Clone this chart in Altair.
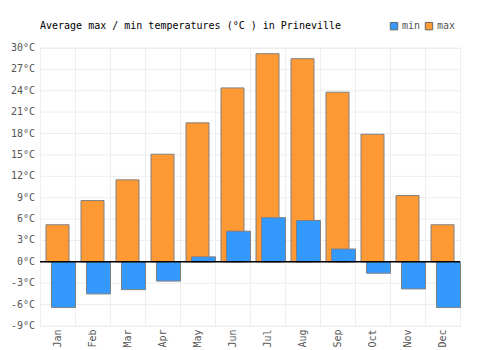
import altair as alt
import pandas as pd

months = ["Jan", "Feb", "Mar", "Apr", "May", "Jun", "Jul", "Aug", "Sep", "Oct", "Nov", "Dec"]
max_temps = [5.2, 8.6, 11.5, 15.1, 19.5, 24.4, 29.2, 28.5, 23.8, 17.9, 9.3, 5.2]
min_temps = [-6.4, -4.5, -3.9, -2.7, 0.7, 4.3, 6.2, 5.8, 1.8, -1.6, -3.8, -6.4]
y_ticks = list(range(-9, 31, 3))
title_text = ["Average max / min temperatures (°C ) in Prineville"]

FONT = "DejaVu Sans Mono"
FS = 10

rows = []
for m, mx, mn in zip(months, max_temps, min_temps):
    rows.append({"month": m, "series": "max", "value": mx})
    rows.append({"month": m, "series": "min", "value": mn})
df = pd.DataFrame(rows)
ticks_df = pd.DataFrame({"v": y_ticks, "label": [f"{v}°C" for v in y_ticks]})

color = alt.Color(
    "series:N",
    scale=alt.Scale(domain=["min", "max"], range=["#3399ff", "#ff9933"]),
    legend=alt.Legend(
        title=None, orient="none", legendX=349, legendY=-27, direction="horizontal",
        symbolType="square", symbolSize=55, symbolStrokeColor="#666666", symbolStrokeWidth=1,
        labelFont=FONT, labelFontSize=FS, labelColor="#555555", columnPadding=2,
        labelOffset=3, padding=0,
    ),
)

x = alt.X(
    "month:N", sort=months, title=None,
    scale=alt.Scale(paddingInner=0, paddingOuter=0),
    axis=alt.Axis(labelAngle=-90, labelFont=FONT, labelFontSize=FS, labelColor="#555555",
                  domain=False, ticks=False, grid=True, gridColor="#eeeeee",
                  tickBand="extent", labelPadding=3, labelAlign="right", labelBaseline="middle"),
)
yscale = alt.Scale(domain=[-9, 30], nice=False, zero=False)
y = alt.Y(
    "value:Q", title=None, scale=yscale,
    axis=alt.Axis(labels=False, domainColor="#000000", domainWidth=1.5, ticks=False,
                  grid=False),
)

grid = alt.Chart(ticks_df).mark_rule(color="#eeeeee", strokeWidth=1).encode(
    y=alt.Y("v:Q", scale=yscale, axis=None)
)
ylabels = alt.Chart(ticks_df).mark_text(
    font=FONT, fontSize=FS, color="#555555", align="right", baseline="middle", dx=-5
).encode(y=alt.Y("v:Q", scale=yscale, axis=None), x=alt.value(0), text="label:N")

base = alt.Chart(df)
max_bars = base.transform_filter(alt.datum.series == "max").mark_bar(
    width=23, stroke="#808080", strokeWidth=1
).encode(x=x, y=y, color=color)
min_bars = base.transform_filter(alt.datum.series == "min").mark_bar(
    width=24, xOffset=6, stroke="#808080", strokeWidth=1
).encode(x=x, y=alt.Y("value:Q", scale=yscale), color=color)
zero = alt.Chart(pd.DataFrame({"z": [0]})).mark_rule(color="#000000", strokeWidth=1.5).encode(
    y=alt.Y("z:Q", scale=yscale)
)
title = alt.Chart(pd.DataFrame({"t": title_text})).mark_text(
    font=FONT, fontSize=FS, color="#000000", align="left", baseline="middle"
).encode(text="t:N", x=alt.value(0), y=alt.value(-22))

chart = alt.layer(grid, max_bars, min_bars, zero, ylabels, title).properties(
    width=420, height=278,
    padding={"left": 40, "top": 48, "right": 40, "bottom": 24},
    autosize=alt.AutoSizeParams(type="none"),
).configure_view(stroke="#eeeeee")

chart.save("out.html", embed_options={"renderer": "svg", "actions": False})
